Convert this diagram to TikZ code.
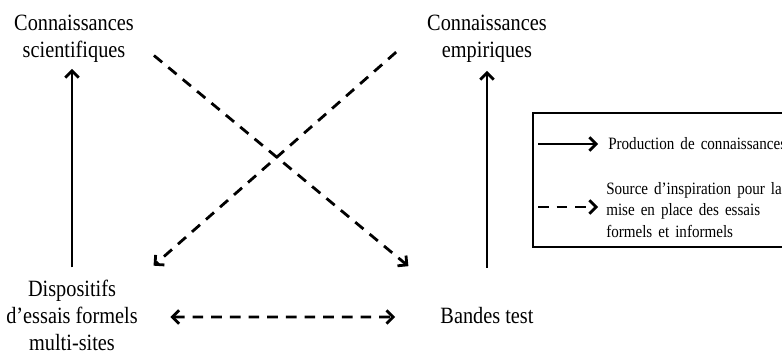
\documentclass[tikz,border=0pt]{standalone}
\usepackage{fontspec}
\setmainfont{Liberation Serif}[FakeStretch=0.87]
\newfontfamily\legendfont{Liberation Serif}[FakeStretch=0.87,WordSpace=1.6]
\usetikzlibrary{arrows.meta,calc}

\begin{document}
\begin{tikzpicture}[x=0.75pt,y=-0.75pt,
    >={Straight Barb[length=5pt,width=10pt]},
    lbl/.style={align=center,inner sep=0pt,font=\fontsize{17.5}{20.25}\selectfont},
    leg/.style={align=left,inner sep=0pt,font=\legendfont\fontsize{13}{16.1}\selectfont},
    prod/.style={line width=2.1pt,->},
    insp/.style={line width=2.1pt,->,dash pattern=on 8pt off 6pt}]
  \path[use as bounding box,clip] (0,0) rectangle (782,356);

  % Labels
  \node[lbl] (sci) at (74,39) {Connaissances\\scientifiques};
  \node[lbl] (emp) at (487,39) {Connaissances\\empiriques};
  \node[lbl] (disp) at (72,315) {Dispositifs\\d’essais formels\\multi-sites};
  \node[lbl,anchor=base] (bandes) at (487,323) {Bandes test};

  % Production de connaissances
  \draw[prod,shorten <=9pt,shorten >=4.5pt] (disp.north) -- (disp.north |- sci.south);
  \draw[prod,shorten <=29pt,shorten >=6pt] (bandes.north) -- (emp.south);

  % Sources d'inspiration
  \draw[insp,shorten <=19.4pt,shorten >=31pt] (sci.east) -- ($(bandes.north west)+(0,-14)$);
  \draw[insp,shorten <=30.8pt,shorten >=15.6pt] ($(emp.west)+(0,-14)$) -- (disp.north east);
  \draw[insp,<->,shorten <=24.4pt,shorten >=33.8pt] ($(disp.east)+(0,2)$) -- ($(bandes.west)+(0,2)$);

  % Legend
  \draw[line width=1.5pt] (533,113) rectangle (800,247);
  \node[leg,anchor=base west] (prodtxt) at (608,150) {Production de connaissances};
  \node[leg,anchor=west] (insptxt) at (606,210) {Source d’inspiration pour la\\mise en place des essais\\formels et informels};
  \coordinate (p1) at (538,144);
  \coordinate (q1) at (538,207);
  \draw[prod,shorten >=7.5pt] (p1) -- (p1 -| prodtxt.west);
  \draw[insp,shorten >=6pt] (q1) -- (q1 -| insptxt.west);
\end{tikzpicture}
\end{document}
